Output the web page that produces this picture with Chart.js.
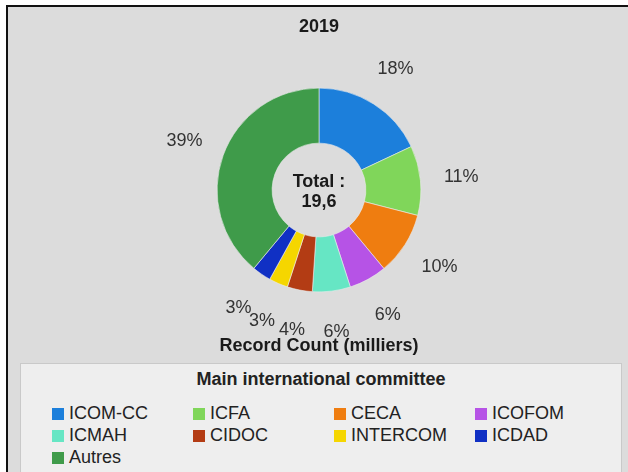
<!DOCTYPE html>
<html>
<head>
<meta charset="utf-8">
<script src="https://cdn.jsdelivr.net/npm/chart.js@4.4.1/dist/chart.umd.min.js"></script>
<style>
    html, body {
        margin: 0;
        padding: 0;
        background: #ffffff;
        font-family: "Liberation Sans", Arial, sans-serif;
    }
    .page {
        position: relative;
        width: 628px;
        height: 472px;
        overflow: hidden;
    }
    .frame {
        position: absolute;
        left: 6px;
        top: 5px;
        right: -10px;
        bottom: -10px;
        background: #dcdcdc;
        border-left: 2px solid #111;
        border-top: 2px solid #111;
    }
    #chartWrap {
        position: absolute;
        left: 0;
        top: 0;
        width: 628px;
        height: 362px;
    }
    .legend-box {
        position: absolute;
        left: 20px;
        top: 363px;
        width: 600px;
        height: 120px;
        background: #eeeeee;
        border: 1px solid #c9c9c9;
    }
    .legend-title {
        position: absolute;
        left: 0;
        right: 0;
        top: 5px;
        text-align: center;
        font-weight: bold;
        font-size: 18px;
        color: #222;
    }
    .legend-item {
        position: absolute;
        height: 20px;
        line-height: 20px;
        font-size: 18px;
        color: #222;
        white-space: nowrap;
    }
    .legend-item i {
        display: inline-block;
        width: 12px;
        height: 12px;
        margin-right: 5px;
        vertical-align: -1px;
    }
</style>
</head>
<body>
<div class="page">
    <div class="frame"></div>
    <div id="chartWrap"><canvas id="donutChart"></canvas></div>
    <div class="legend-box" id="legendBox">
        <div class="legend-title">Main international committee</div>
    </div>
</div>

<script>
// Data (record count, thousands) - 2019
const committees = ['ICOM-CC', 'ICFA', 'CECA', 'ICOFOM', 'ICMAH', 'CIDOC', 'INTERCOM', 'ICDAD', 'Autres'];
const recordCounts = [3.53, 2.16, 1.96, 1.18, 1.18, 0.78, 0.59, 0.59, 7.64];
const sliceColors = ['#1c7fdb', '#80d65a', '#ef7d10', '#b653e6', '#66e6c4', '#b33c14', '#f5d600', '#1030c4', '#3f9b4a'];

const chartTitle = '2019';
const bottomCaption = 'Record Count (milliers)';

const FONT = '"Liberation Sans", Arial, sans-serif';

// percent labels around the ring + total in the hole
const sliceLabels = {
    id: 'sliceLabels',
    afterDatasetsDraw(chart) {
        const ctx = chart.ctx;
        const meta = chart.getDatasetMeta(0);
        const values = chart.data.datasets[0].data;
        const total = values.reduce((a, b) => a + b, 0);

        ctx.save();
        ctx.textAlign = 'center';
        ctx.textBaseline = 'middle';
        ctx.font = '18px ' + FONT;
        ctx.fillStyle = '#333';

        let cx = 0, cy = 0;
        meta.data.forEach((arc, i) => {
            const p = arc.getProps(['x', 'y', 'startAngle', 'endAngle', 'outerRadius'], true);
            cx = p.x; cy = p.y;
            const mid = (p.startAngle + p.endAngle) / 2;
            const r = p.outerRadius + 41;
            const pct = Math.round(values[i] / total * 100) + '%';
            ctx.fillText(pct, p.x + Math.cos(mid) * r, p.y + Math.sin(mid) * r);
        });

        ctx.font = 'bold 18px ' + FONT;
        ctx.fillStyle = '#1a1a1a';
        ctx.fillText('Total :', cx, cy - 8);
        ctx.fillText(total.toFixed(1).replace('.', ','), cx, cy + 12);
        ctx.restore();
    }
};

const ctx = document.getElementById('donutChart').getContext('2d');
const donutChart = new Chart(ctx, {
    type: 'doughnut',
    data: {
        labels: committees,
        datasets: [{
            data: recordCounts,
            backgroundColor: sliceColors,
            borderColor: 'rgba(235, 235, 235, 0.6)',
            borderWidth: 1
        }]
    },
    options: {
        responsive: true,
        maintainAspectRatio: false,
        animation: false,
        cutout: '46%',
        layout: {
            padding: { left: 110, right: 100, top: 0, bottom: 0 }
        },
        plugins: {
            legend: { display: false },
            tooltip: { enabled: false },
            title: {
                display: true,
                text: chartTitle,
                color: '#1a1a1a',
                font: { family: FONT, size: 18, weight: 'bold' },
                padding: { top: 16, bottom: 50 }
            },
            subtitle: {
                display: true,
                text: bottomCaption,
                position: 'bottom',
                color: '#1a1a1a',
                font: { family: FONT, size: 18, weight: 'bold' },
                padding: { top: 43, bottom: 5 }
            }
        }
    },
    plugins: [sliceLabels]
});

// HTML legend in a 4 column grid
const legendBox = document.getElementById('legendBox');
committees.forEach((name, i) => {
    const item = document.createElement('div');
    item.className = 'legend-item';
    item.style.left = (31 + (i % 4) * 141) + 'px';
    item.style.top = (39 + Math.floor(i / 4) * 22) + 'px';
    item.innerHTML = '<i style="background:' + sliceColors[i] + '"></i>' + name;
    legendBox.appendChild(item);
});
</script>
</body>
</html>
